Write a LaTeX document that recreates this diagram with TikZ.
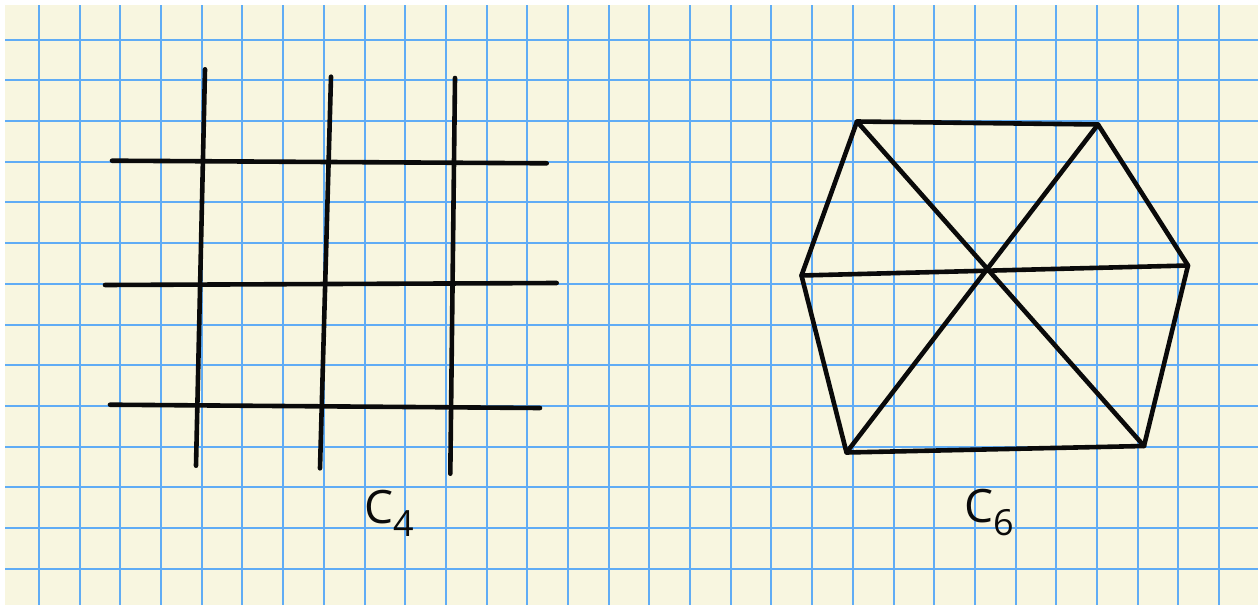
\documentclass[tikz,border=0pt]{standalone}
\usepackage{fontspec}
\setmainfont{Open Sans}
\usepackage{tikz}
\usetikzlibrary{calc}
\definecolor{paper}{RGB}{248,246,224}
\definecolor{gridblue}{RGB}{96,172,245}
\definecolor{ink}{RGB}{10,10,10}

\begin{document}
\begin{tikzpicture}[x=1pt, y=-1pt,
    gridline/.style={draw=gridblue, line width=2pt},
    pen/.style={draw=ink, line width=4.6pt, line cap=round, line join=round},
    hand/.style={font=\fontsize{46}{46}\selectfont, text=ink, inner sep=0pt},
]
    \useasboundingbox (0,0) rectangle (1258,605);

    % Paper
    \fill[paper] (5,5) rectangle (1258,605);
    \foreach \i in {0,...,29}
        \draw[gridline] ({39+40.69*\i},5) -- ({39+40.69*\i},605);
    \foreach \j in {0,...,13}
        \draw[gridline] (5,{39.7+40.69*\j}) -- (1258,{39.7+40.69*\j});

    % C4 lattice
    \draw[pen] (112,160.7) -- (546.7,163.3);
    \draw[pen] (105,285) -- (556.7,283);
    \draw[pen] (110,404.7) -- (540,408);
    \draw[pen] (205,69.3) -- (196,465.7);
    \draw[pen] (331,76.7) -- (320,468.3);
    \draw[pen] (455,78) -- (450.3,473.7);
    \node[hand] (cfour) at (389,513) {C\raisebox{-13pt}{\fontsize{36}{36}\selectfont 4}};

    % C6 hexagon
    \coordinate (ha) at (857,121.5);
    \coordinate (hb) at (1098,124.5);
    \coordinate (hc) at (1188,265.5);
    \coordinate (hd) at (1144,446);
    \coordinate (he) at (846.5,452.5);
    \coordinate (hf) at (801.5,275.5);
    \draw[pen] (ha) -- (hb) -- (hc) -- (hd) -- (he) -- (hf) -- cycle;
    \draw[pen] (ha) -- (hd);
    \draw[pen] (hb) -- (he);
    \draw[pen] (hf) -- (hc);
    \node[hand] (csix) at (989,513) {C\raisebox{-13pt}{\fontsize{36}{36}\selectfont 6}};
\end{tikzpicture}
\end{document}
